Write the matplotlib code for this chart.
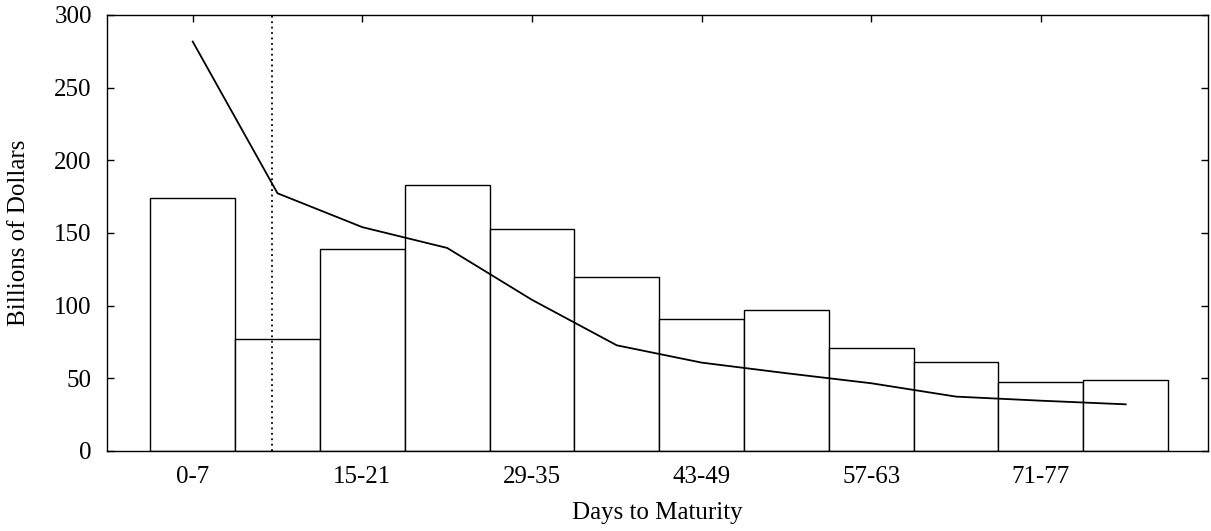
import numpy as np
import matplotlib
matplotlib.use('Agg')
import matplotlib.pyplot as plt

plt.rcParams['font.family'] = ['Liberation Serif', 'DejaVu Serif']

# weekly maturity buckets
buckets = ['0-7', '8-14', '15-21', '22-28', '29-35', '36-42',
           '43-49', '50-56', '57-63', '64-70', '71-77', '78-84']
bar_vals = [174, 77, 139, 183, 153, 120, 91, 97, 71, 61.5, 47.5, 49]
line_vals = [281.7, 177.3, 154, 139.7, 104, 72.7, 60.8, 53.5, 46.6, 37.4, 34.6, 32.1]
dotted_x = 0.93

x = np.arange(len(buckets))

fig = plt.figure(figsize=(12.11, 5.31), dpi=100)
ax = fig.add_axes([0.0884, 0.1507, 0.9091, 0.8211])

ax.bar(x, bar_vals, width=1.0, color='white', edgecolor='black', linewidth=1.0, zorder=2)
ax.plot(x, line_vals, color='black', linewidth=1.3, zorder=3)
ax.axvline(dotted_x, color='black', linestyle=(0, (1, 2)), linewidth=1.3, zorder=4)

ax.set_xlim(-1.01, 11.97)
ax.set_ylim(0, 300)
ax.set_yticks(np.arange(0, 301, 50))
ax.set_xticks(x[::2])
ax.set_xticklabels(buckets[::2])

ax.tick_params(direction='in', length=5, width=1, top=True, right=True,
               labelsize=18, colors='black')
ax.tick_params(axis='x', pad=11)
ax.tick_params(axis='y', pad=11)
for s in ax.spines.values():
    s.set_linewidth(1.0)

ax.set_xlabel('Days to Maturity', fontsize=18, va='center')
ax.xaxis.set_label_coords(0.5, -0.142)
ax.set_ylabel('Billions of Dollars', fontsize=18, va='center')
ax.yaxis.set_label_coords(-0.08, 0.5)

plt.savefig('out.png', dpi=100)
